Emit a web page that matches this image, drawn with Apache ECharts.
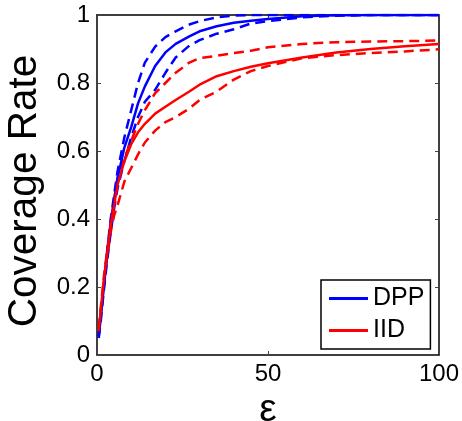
<!DOCTYPE html>
<html>
<head>
<meta charset="utf-8">
<script src="https://cdn.jsdelivr.net/npm/echarts@6/dist/echarts.min.js"></script>
<style>
html,body{margin:0;padding:0;background:#fff;}
#chart{width:462px;height:421px;}
</style>
</head>
<body>
<div id="chart"></div>
<script>
var epsilon = [0.5,1,2,3,4,5,6,8,10,12,14,17,20,23,27,30,35,40,45,50,60,70,80,90,100];
var dppMean  = [0.055,0.10,0.20,0.30,0.38,0.45,0.52,0.61,0.67,0.74,0.79,0.85,0.89,0.915,0.937,0.952,0.967,0.977,0.983,0.988,0.996,0.999,1,1,1];
var dppUpper = [0.06,0.11,0.21,0.31,0.40,0.47,0.54,0.64,0.72,0.80,0.86,0.907,0.935,0.952,0.972,0.982,0.993,0.998,1,1,1,1,1,1,1];
var dppLower = [0.05,0.09,0.19,0.28,0.36,0.43,0.49,0.57,0.64,0.70,0.745,0.78,0.83,0.875,0.91,0.926,0.945,0.958,0.975,0.982,0.993,0.998,1,1,1];
var iidMean  = [0.07,0.12,0.22,0.30,0.38,0.44,0.50,0.57,0.62,0.655,0.68,0.71,0.73,0.75,0.775,0.795,0.82,0.835,0.848,0.858,0.875,0.89,0.90,0.908,0.915];
var iidUpper = [0.08,0.13,0.23,0.31,0.39,0.46,0.52,0.58,0.63,0.68,0.72,0.77,0.80,0.83,0.86,0.873,0.88,0.888,0.895,0.905,0.915,0.92,0.922,0.923,0.925];
var iidLower = [0.07,0.12,0.21,0.29,0.36,0.41,0.44,0.51,0.55,0.59,0.625,0.66,0.685,0.70,0.725,0.75,0.775,0.81,0.835,0.85,0.873,0.882,0.888,0.893,0.899];
var xTicks = [0,50,100];
var yTicks = [0,0.2,0.4,0.6,0.8,1];

function pairs(ys){ return epsilon.map(function(x,i){ return [x, ys[i]]; }); }

var FONT = '"Liberation Sans", Arial, sans-serif';
var chart = echarts.init(document.getElementById('chart'), null, {renderer:'canvas'});

function line(name, ys, color, dashed){
  return {
    name: name, type: 'line', data: pairs(ys), symbol: 'none', showSymbol: false, smooth: false,
    xAxisIndex: 0, yAxisIndex: 0, z: dashed ? 2 : 3,
    lineStyle: { color: color, width: 2.5, type: dashed ? [10,6] : 'solid' },
    itemStyle: { color: color }
  };
}

var axisLineStyle = { color: '#000', width: 1.5 };

chart.setOption({
  animation: false,
  backgroundColor: '#fff',
  grid: { left: 97, right: 23, top: 15, bottom: 66, containLabel: false, outerBoundsMode: 'none' },
  legend: {
    data: [{name:'DPP', icon:'rect'}, {name:'IID', icon:'rect'}], orient: 'vertical', left: 321, top: 280,
    itemWidth: 39, itemHeight: 3, itemGap: 7,
    padding: [6, 6, 6, 8],
    borderColor: '#000', borderWidth: 1.5, backgroundColor: '#fff',
    textStyle: { fontFamily: FONT, fontSize: 25, color: '#000', lineHeight: 25 }
  },
  xAxis: [{
    type: 'value', min: 0, max: 100, interval: 50, position: 'bottom',
    name: 'ε', nameLocation: 'middle', nameGap: 36,
    nameTextStyle: { fontFamily: FONT, fontSize: 39, color: '#000' },
    axisLine: { show: true, onZero: false, lineStyle: axisLineStyle },
    axisTick: { show: true, inside: true, length: 4, lineStyle: { color: '#444' } },
    axisLabel: { fontFamily: FONT, fontSize: 24, color: '#000', margin: 7,
      formatter: function(v){ return xTicks.indexOf(v) >= 0 ? String(v) : ''; } },
    splitLine: { show: false }
  },{
    type: 'value', min: 0, max: 100, interval: 50, position: 'top',
    axisLine: { show: true, onZero: false, lineStyle: axisLineStyle },
    axisTick: { show: true, inside: true, length: 4, lineStyle: { color: '#444' } },
    axisLabel: { show: false }, splitLine: { show: false }
  }],
  yAxis: [{
    type: 'value', min: 0, max: 1, interval: 0.2, position: 'left',
    name: 'Coverage Rate', nameLocation: 'middle', nameGap: 48, nameRotate: 90,
    nameTextStyle: { fontFamily: FONT, fontSize: 40.5, color: '#000', padding: [0, 12, 0, 0] },
    axisLine: { show: true, onZero: false, lineStyle: axisLineStyle },
    axisTick: { show: true, inside: true, length: 4, lineStyle: { color: '#444' } },
    axisLabel: { fontFamily: FONT, fontSize: 24, color: '#000', margin: 7,
      formatter: function(v){
        for (var i=0;i<yTicks.length;i++){ if (Math.abs(yTicks[i]-v)<1e-9) return String(yTicks[i]); }
        return '';
      } },
    splitLine: { show: false }
  },{
    type: 'value', min: 0, max: 1, interval: 0.2, position: 'right',
    axisLine: { show: true, onZero: false, lineStyle: axisLineStyle },
    axisTick: { show: true, inside: true, length: 4, lineStyle: { color: '#444' } },
    axisLabel: { show: false }, splitLine: { show: false }
  }],
  series: [
    line('DPP upper', dppUpper, '#0000ff', true),
    line('DPP lower', dppLower, '#0000ff', true),
    line('IID upper', iidUpper, '#ff0000', true),
    line('IID lower', iidLower, '#ff0000', true),
    line('DPP', dppMean, '#0000ff', false),
    line('IID', iidMean, '#ff0000', false)
  ]
});
</script>
</body>
</html>
